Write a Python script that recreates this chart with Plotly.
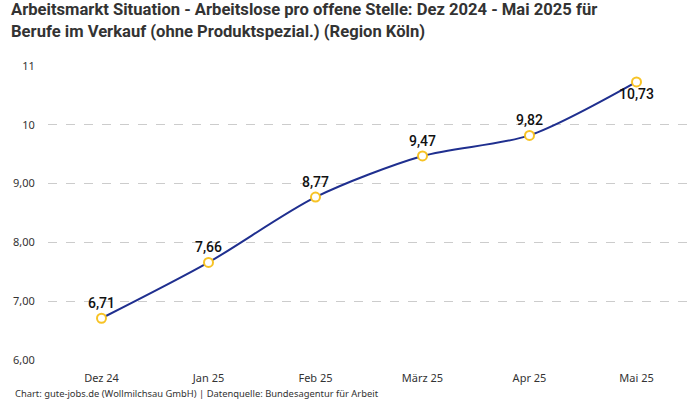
import plotly.graph_objects as go

months = ["Dez 24", "Jan 25", "Feb 25", "März 25", "Apr 25", "Mai 25"]
values = [6.71, 7.66, 8.77, 9.47, 9.82, 10.73]
value_labels = ["6,71", "7,66", "8,77", "9,47", "9,82", "10,73"]
label_pos = ["top center"] * 5 + ["bottom center"]
y_ticks = [6, 7, 8, 9, 10, 11]
y_tick_text = ["6,00", "7,00", "8,00", "9,00", "10", "11"]

fig = go.Figure()
fig.add_trace(go.Scatter(
    x=months, y=values,
    mode="lines+markers+text",
    line=dict(color="#1f2f8f", width=2, shape="spline", smoothing=0.8),
    marker=dict(size=9, color="white", line=dict(color="#f7c325", width=2)),
    text=value_labels, textposition=label_pos,
    textfont=dict(family="Roboto", size=14, color="#111111", weight=500),
    cliponaxis=False,
    hoverinfo="skip",
))

fig.update_layout(
    width=700, height=400,
    margin=dict(l=48, r=10, t=66, b=40),
    paper_bgcolor="white", plot_bgcolor="white",
    showlegend=False,
    xaxis=dict(
        range=[-0.5, 5.5], showgrid=False, zeroline=False, showline=False,
        tickfont=dict(family="Noto Sans", size=11, color="#333333"),
        ticks="outside", ticklen=8, tickcolor="rgba(0,0,0,0)",
    ),
    yaxis=dict(
        range=[6, 11], tickvals=y_ticks, ticktext=y_tick_text,
        showgrid=True, gridcolor="#cccccc", griddash="dash", gridwidth=1,
        zeroline=False, showline=False,
        tickfont=dict(family="Noto Sans", size=11, color="#333333"),
        ticks="outside", ticklen=10, tickcolor="rgba(0,0,0,0)",
    ),
    annotations=[
        dict(
            text="Arbeitsmarkt Situation - Arbeitslose pro offene Stelle: Dez 2024 - Mai 2025 für<br>Berufe im Verkauf (ohne Produktspezial.) (Region Köln)",
            xref="paper", yref="paper", x=-0.06, y=1.232, xanchor="left", yanchor="top",
            align="left", showarrow=False,
            font=dict(family="Roboto", size=16.6, color="#333333", weight="bold"),
        ),
        dict(
            text="Chart: gute-jobs.de (Wollmilchsau GmbH) | Datenquelle: Bundesagentur für Arbeit",
            xref="paper", yref="paper", x=-0.054, y=-0.085, xanchor="left", yanchor="top",
            showarrow=False,
            font=dict(family="Noto Sans", size=9.4, color="#333333"),
        ),
    ],
)

fig.write_html("out.html", post_script="document.body.style.margin='0';",
               config={"displayModeBar": False})
